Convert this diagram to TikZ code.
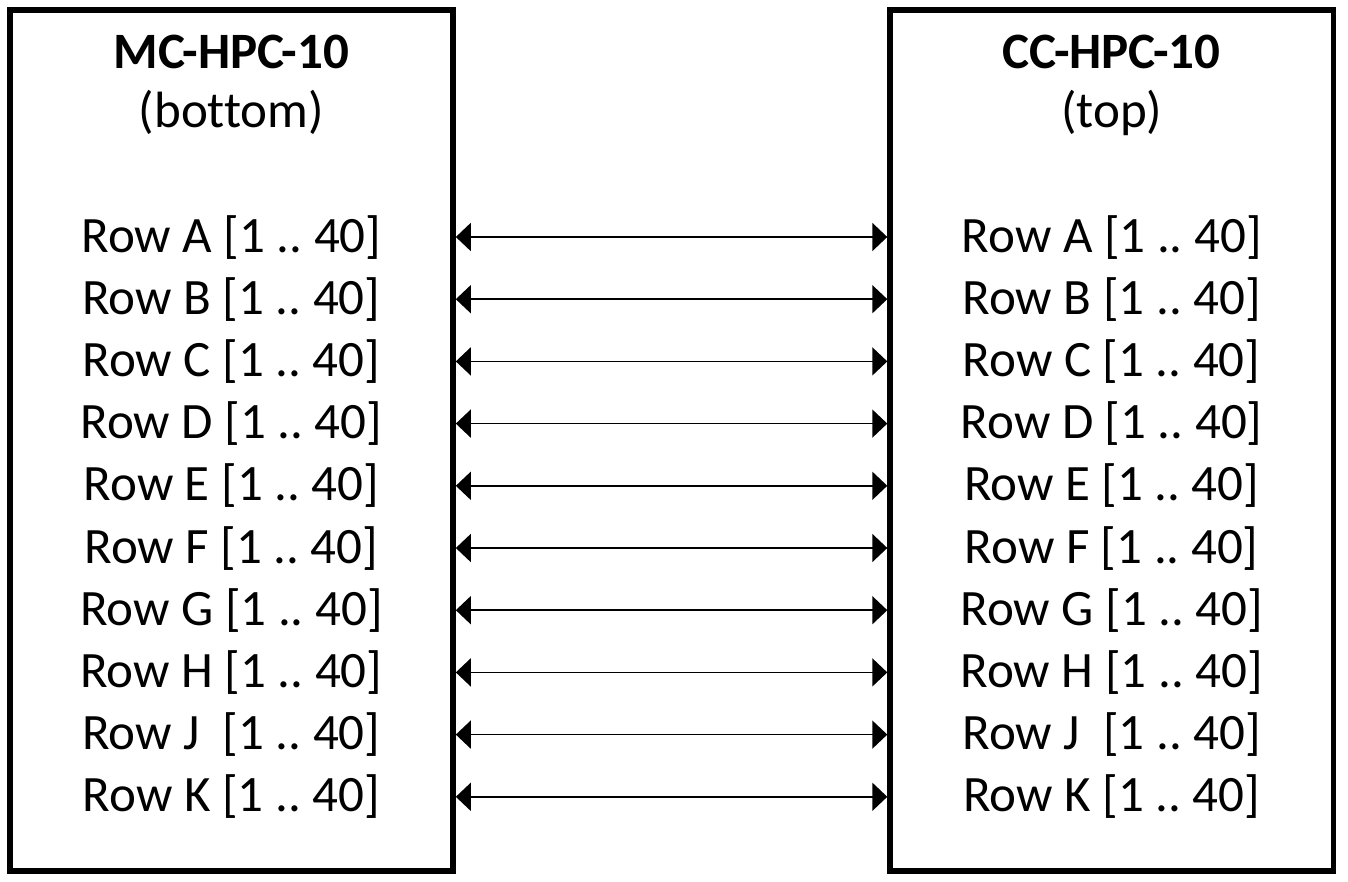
\documentclass[tikz,border=0pt]{standalone}
\usepackage{fontspec}
\setmainfont{Carlito}[Ligatures=NoCommon]
\frenchspacing
\usetikzlibrary{positioning,arrows.meta}

\begin{document}
\begin{tikzpicture}[
x=1pt, y=-1pt,
boardbox/.style={rectangle, draw=black, line width=5.5pt, minimum width=443.3pt, minimum height=861.2pt, inner sep=0pt},
titletext/.style={font=\fontsize{51}{60}\selectfont\bfseries, anchor=base, inner sep=0pt},
subtext/.style={font=\fontsize{51}{60}\selectfont, anchor=base, inner sep=0pt},
rowtext/.style={font=\fontsize{51}{60}\selectfont, inner sep=0pt, text height=46pt, text depth=15.8pt},
link/.style={{Triangle[length=15pt,width=28pt]}-{Triangle[length=15pt,width=28pt]}, line width=1.6pt},
node distance=0pt
]
\useasboundingbox (0,0) rectangle (1348,882);

%Boxes
\node[boardbox]   (mcbox)    at (231.4,440.4)  {};
\node[boardbox]   (ccbox)    at (1111.7,440.4) {};

%Titles
\node[titletext]  (mctitle)  at (231.4,69)   {MC-HPC-10};
\node[subtext]    (mcsub)    at (231.4,128)  {(bottom)};
\node[titletext]  (cctitle)  at (1111.7,69)  {CC-HPC-10};
\node[subtext]    (ccsub)    at (1111.7,128) {(top)};

%Rows bottom
\node[rowtext]    (mcA)      at (231.4,237)  {Row A [1 .. 40]};
\node[rowtext]    (mcB)      [below=of mcA]  {Row B [1 .. 40]};
\node[rowtext]    (mcC)      [below=of mcB]  {Row C [1 .. 40]};
\node[rowtext]    (mcD)      [below=of mcC]  {Row D [1 .. 40]};
\node[rowtext]    (mcE)      [below=of mcD]  {Row E [1 .. 40]};
\node[rowtext]    (mcF)      [below=of mcE]  {Row F [1 .. 40]};
\node[rowtext]    (mcG)      [below=of mcF]  {Row G [1 .. 40]};
\node[rowtext]    (mcH)      [below=of mcG]  {Row H [1 .. 40]};
\node[rowtext]    (mcJ)      [below=of mcH]  {Row J~ [1 .. 40]};
\node[rowtext]    (mcK)      [below=of mcJ]  {Row K [1 .. 40]};

%Rows top
\node[rowtext]    (ccA)      at (1111.7,237) {Row A [1 .. 40]};
\node[rowtext]    (ccB)      [below=of ccA]  {Row B [1 .. 40]};
\node[rowtext]    (ccC)      [below=of ccB]  {Row C [1 .. 40]};
\node[rowtext]    (ccD)      [below=of ccC]  {Row D [1 .. 40]};
\node[rowtext]    (ccE)      [below=of ccD]  {Row E [1 .. 40]};
\node[rowtext]    (ccF)      [below=of ccE]  {Row F [1 .. 40]};
\node[rowtext]    (ccG)      [below=of ccF]  {Row G [1 .. 40]};
\node[rowtext]    (ccH)      [below=of ccG]  {Row H [1 .. 40]};
\node[rowtext]    (ccJ)      [below=of ccH]  {Row J~ [1 .. 40]};
\node[rowtext]    (ccK)      [below=of ccJ]  {Row K [1 .. 40]};

%Lines
\draw[link] (mcbox.east |- mcA) -- (ccbox.west |- ccA);
\draw[link] (mcbox.east |- mcB) -- (ccbox.west |- ccB);
\draw[link] (mcbox.east |- mcC) -- (ccbox.west |- ccC);
\draw[link] (mcbox.east |- mcD) -- (ccbox.west |- ccD);
\draw[link] (mcbox.east |- mcE) -- (ccbox.west |- ccE);
\draw[link] (mcbox.east |- mcF) -- (ccbox.west |- ccF);
\draw[link] (mcbox.east |- mcG) -- (ccbox.west |- ccG);
\draw[link] (mcbox.east |- mcH) -- (ccbox.west |- ccH);
\draw[link] (mcbox.east |- mcJ) -- (ccbox.west |- ccJ);
\draw[link] (mcbox.east |- mcK) -- (ccbox.west |- ccK);
\end{tikzpicture}
\end{document}
